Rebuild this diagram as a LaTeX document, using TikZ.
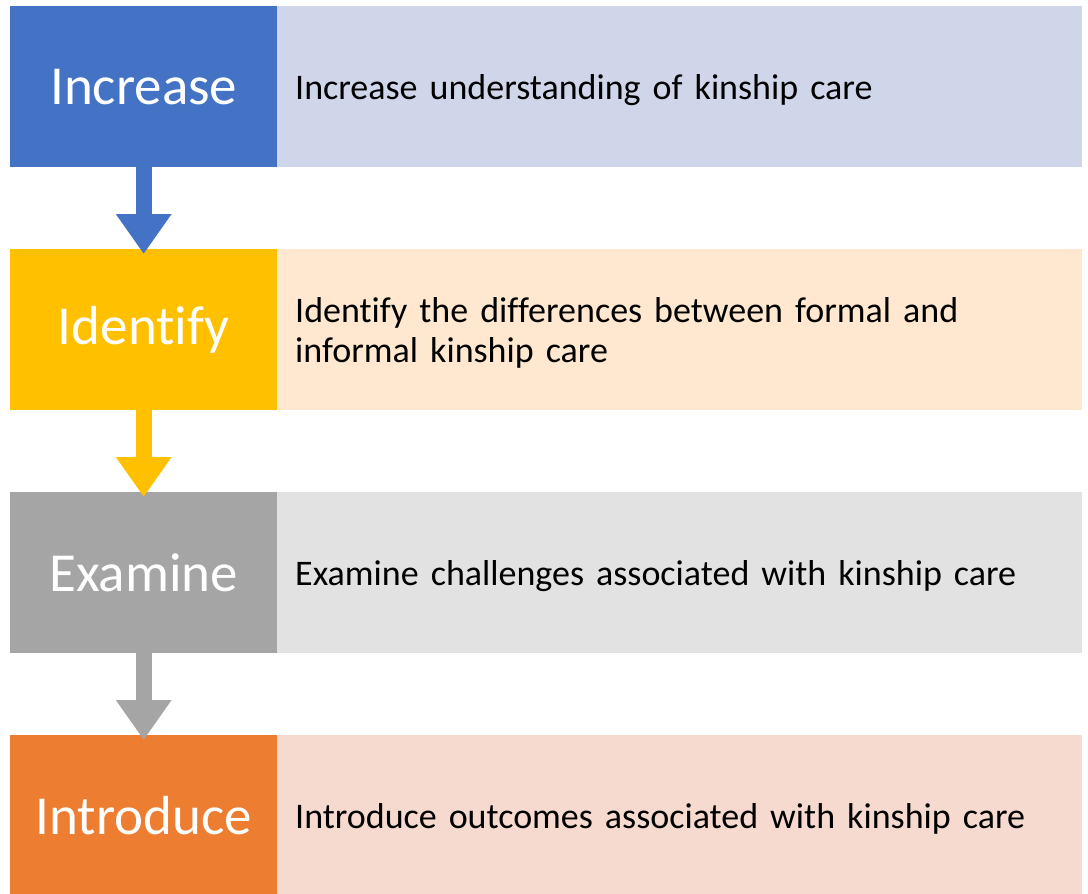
\documentclass[tikz,border=0pt]{standalone}
\usepackage{fontspec}
\setmainfont[Ligatures={NoCommon}]{Carlito}
\usetikzlibrary{arrows.meta}
\definecolor{cblue}{RGB}{68,114,196}
\definecolor{lblue}{RGB}{208,214,234}
\definecolor{cyel}{RGB}{255,192,0}
\definecolor{lyel}{RGB}{255,232,207}
\definecolor{cgray}{RGB}{165,165,165}
\definecolor{lgray}{RGB}{226,226,226}
\definecolor{corange}{RGB}{237,125,49}
\definecolor{lorange}{RGB}{247,218,207}
\newcommand{\widespacing}{\spaceskip=12pt\relax}
\tikzset{
  lbox/.style={rectangle, anchor=north west, minimum width=267pt, minimum height=161pt, inner sep=0pt, text=white, font=\fontsize{55}{60}\selectfont},
  rbox/.style={rectangle, anchor=north west, minimum width=805pt, minimum height=161pt, inner sep=0pt},
  rtext/.style={anchor=west, xshift=18pt, yshift=-3pt, inner sep=0pt, align=left, text=black, font=\fontsize{36}{40}\selectfont, execute at begin node=\widespacing},
  flowarrow/.style={line width=16pt, -{Triangle[width=53pt,length=40pt]}, shorten >=-5pt}
}
\begin{document}
\begin{tikzpicture}[x=1pt,y=-1pt]
\useasboundingbox (0,0) rectangle (1088,894);
\node[rbox, fill=lblue] (r1) at (277,6) {};
\node[rbox, fill=lyel] (r2) at (277,249) {};
\node[rbox, fill=lgray] (r3) at (277,492) {};
\node[rbox, fill=lorange] (r4) at (277,735) {};
\node[rtext] (t1) at (r1.west) {Increase understanding of kinship care};
\node[rtext] (t2) at (r2.west) {Identify the differences between formal and\\informal kinship care};
\node[rtext] (t3) at (r3.west) {Examine challenges associated with kinship care};
\node[rtext] (t4) at (r4.west) {Introduce outcomes associated with kinship care};
\node[lbox, fill=cblue] (l1) at (10,6) {Increase};
\node[lbox, fill=cyel] (l2) at (10,249) {Identify};
\node[lbox, fill=cgray] (l3) at (10,492) {Examine};
\node[lbox, fill=corange] (l4) at (10,735) {Introduce};
\draw[flowarrow, cblue] (l1.south) -- (l2.north);
\draw[flowarrow, cyel] (l2.south) -- (l3.north);
\draw[flowarrow, cgray] (l3.south) -- (l4.north);
\end{tikzpicture}
\end{document}
